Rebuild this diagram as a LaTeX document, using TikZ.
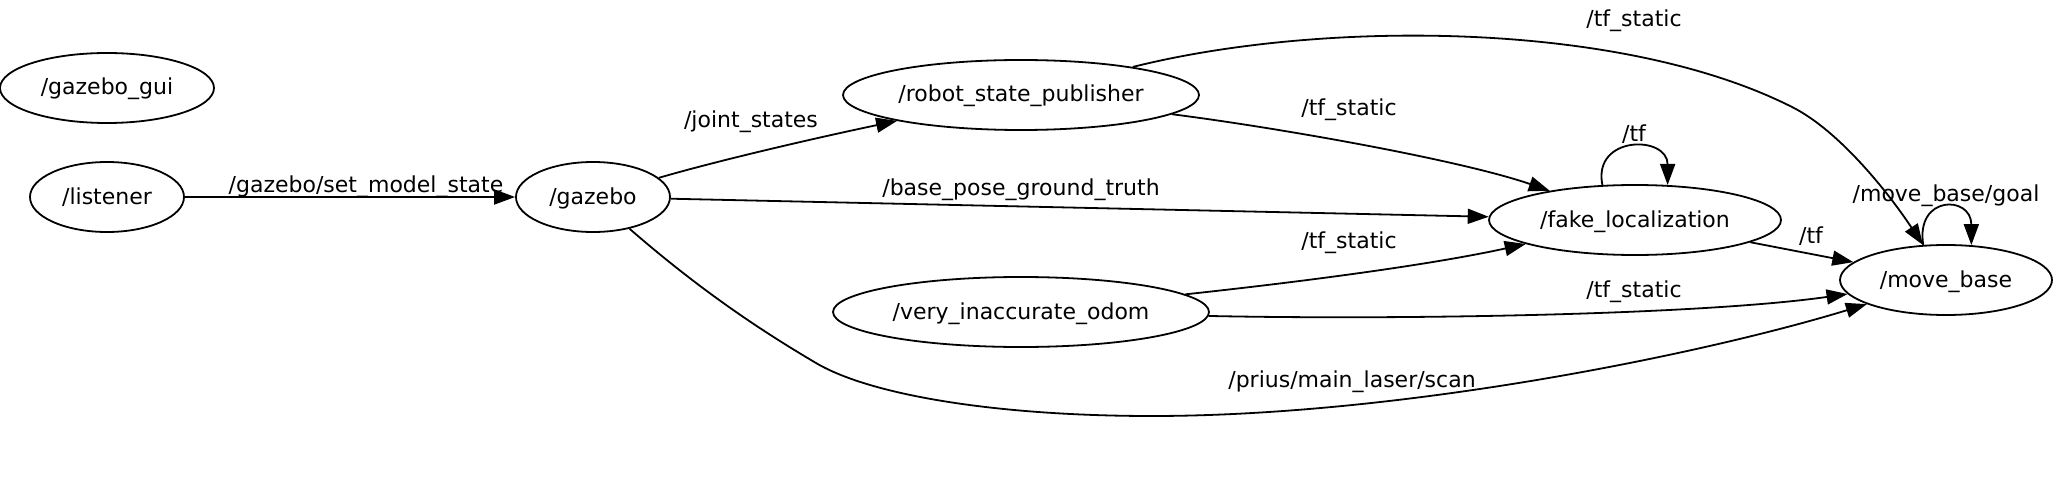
\documentclass[tikz,border=0pt]{standalone}
\usepackage{fontspec}
\setmainfont{DejaVu Sans}
\usetikzlibrary{arrows.meta,shapes.geometric}
\begin{document}
\begin{tikzpicture}[x=1pt,y=-1pt,
  nd/.style={draw, ellipse, line width=1.8pt, inner sep=0pt, minimum height=70pt, text height=16pt, text depth=2pt, font=\fontsize{22}{26}\selectfont},
  lbl/.style={font=\fontsize{22}{26}\selectfont, inner sep=0pt, anchor=base},
  arr/.style={line width=1.8pt, -{Triangle[length=21pt,width=15pt]}}]
\useasboundingbox (0,0) rectangle (2053,484);
% nodes
\node[nd, minimum width=214pt] (gui) at (107,88) {/gazebo\_gui};
\node[nd, minimum width=154pt] (listener) at (107,197) {/listener};
\node[nd, minimum width=154pt] (gazebo) at (593,197) {/gazebo};
\node[nd, minimum width=356pt] (rsp) at (1021,95) {/robot\_state\_publisher};
\node[nd, minimum width=292pt] (fake) at (1635,220) {/fake\_localization};
\node[nd, minimum width=212pt] (move) at (1946,280) {/move\_base};
\node[nd, minimum width=376pt] (odom) at (1021,312) {/very\_inaccurate\_odom};
% helper coordinates
\coordinate (c1) at (1792,107);
\coordinate (c2) at (1152,416);
\coordinate (c3) at (816,363);
% edges
\draw[arr] (listener) -- (gazebo);
\draw[arr] (gazebo) .. controls (720,160) and (820,137) .. (rsp);
\draw[arr] (gazebo) -- (fake);
\draw[arr] (rsp) .. controls (1280,128) and (1460,160) .. (fake);
\draw[arr] (rsp) .. controls (1320,20) and (1620,20) .. (c1) .. controls (1840,131) and (1890,195) .. (move);
\draw[arr] (fake.133) .. controls +(-10,-50) and +(0,-50) .. (fake.47);
\draw[arr] (move.123) .. controls +(-8,-50) and +(0,-50) .. (move.54);
\draw[arr] (fake) -- (move);
\draw[arr] (odom) .. controls (1300,282) and (1430,265) .. (fake);
\draw[arr] (odom) .. controls (1400,320) and (1700,315) .. (move);
\draw[arr] (gazebo) .. controls (700,290) and (760,330) .. (c3) .. controls (872,396) and (1000,416) .. (c2) .. controls (1400,416) and (1700,355) .. (move);
% labels
\node[lbl] (l1) at (366,192) {/gazebo/set\_model\_state};
\node[lbl] (l2) at (751,128) {/joint\_states};
\node[lbl] (l3) at (1021,195) {/base\_pose\_ground\_truth};
\node[lbl] (l4) at (1349,116) {/tf\_static};
\node[lbl] (l5) at (1634,27) {/tf\_static};
\node[lbl] (l6) at (1634,142) {/tf};
\node[lbl] (l7) at (1946,201) {/move\_base/goal};
\node[lbl] (l8) at (1811,243) {/tf};
\node[lbl] (l9) at (1349,248) {/tf\_static};
\node[lbl] (l10) at (1634,297) {/tf\_static};
\node[lbl] (l11) at (1352,387) {/prius/main\_laser/scan};
\end{tikzpicture}
\end{document}
